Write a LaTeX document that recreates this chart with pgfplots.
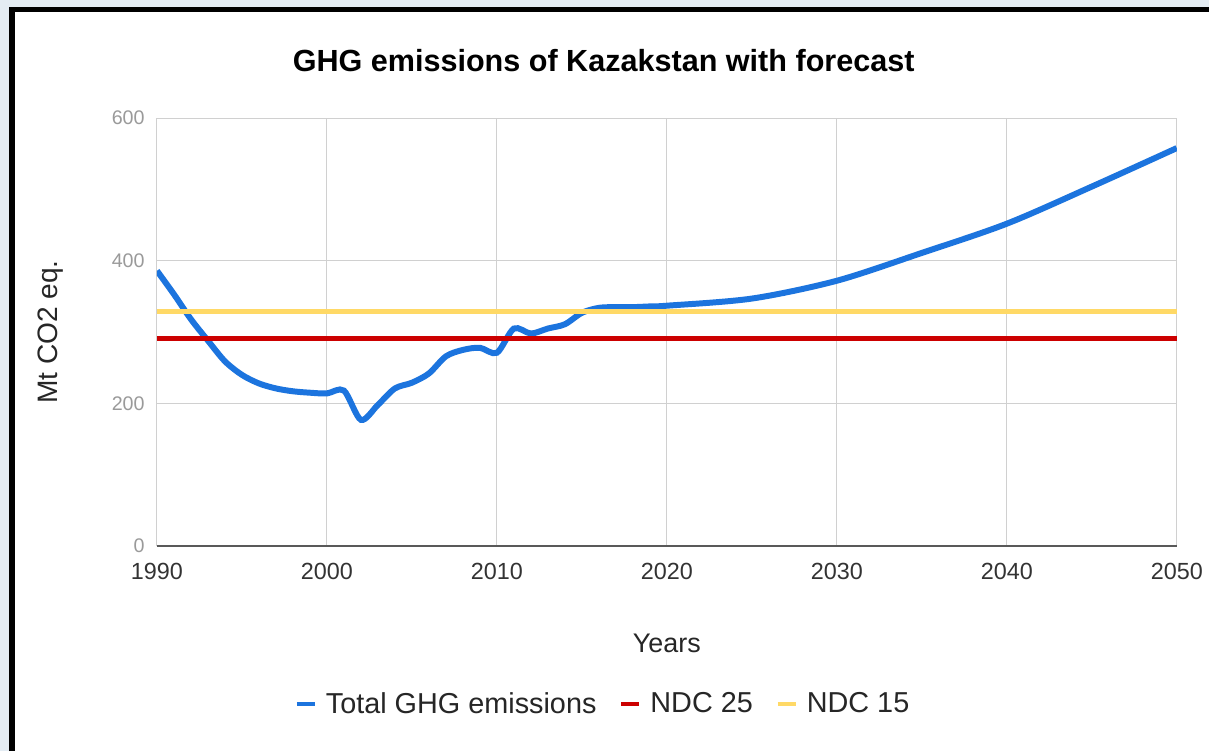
\documentclass[border=0pt]{standalone}
\usepackage{pgfplots}
\pgfplotsset{compat=1.18}
\usepackage{fontspec}
\setmainfont{Liberation Sans}
\definecolor{ghgblue}{HTML}{1C74DE}
\definecolor{ndcred}{HTML}{CC0000}
\definecolor{ndcyellow}{HTML}{FFD966}
\definecolor{gridgray}{HTML}{D0D0D0}
\definecolor{ytickgray}{HTML}{9A9A9A}
\definecolor{xtickgray}{HTML}{333333}
\definecolor{bgout}{HTML}{E4ECF3}
\begin{document}
\begin{tikzpicture}
\begin{scope}[x=0.02cm,y=0.02cm]
\useasboundingbox (0,0) rectangle (1209,751);
\fill[bgout] (0,0) rectangle (1209,751);
\fill[white] (12,0) rectangle (1209,741.5);
\draw[black, line width=0.115cm] (12.2,0) -- (12.2,741.5) -- (1209,741.5);
\end{scope}
\begin{axis}[
  at={(3.14cm,4.10cm)}, anchor=south west,
  width=20.4cm, height=8.56cm, scale only axis,
  xmin=1990, xmax=2050, ymin=0, ymax=600,
  xtick={1990,2000,2010,2020,2030,2040,2050},
  ytick={0,200,400,600},
  grid=major,
  major grid style={draw=gridgray, line width=0.6pt},
  axis line style={draw=none},
  major tick length=0pt,
  /pgf/number format/assume math mode=true,
  /pgf/number format/1000 sep={},
  xticklabel style={font=\fontsize{13.3}{16}\selectfont, text=xtickgray, anchor=north, inner sep=0pt, yshift=-0.34cm},
  yticklabel style={font=\fontsize{11.2}{13}\selectfont, text=ytickgray, anchor=east, inner sep=0pt, xshift=-0.24cm},
  title={\textbf{GHG emissions of Kazakstan with forecast}},
  title style={at={([yshift=0.94cm]axis description cs:0.438,1)}, anchor=center, font=\fontsize{17.4}{20}\selectfont, text=black},
  xlabel={Years},
  xlabel style={at={([yshift=-1.94cm]axis description cs:0.5,0)}, anchor=center, font=\fontsize{15.3}{18}\selectfont, text=black!85},
  ylabel={Mt CO2 eq.},
  ylabel style={at={([xshift=-2.12cm]axis description cs:0,0.5)}, anchor=center, font=\fontsize{16}{19}\selectfont, text=black!85},
  legend style={at={([yshift=-3.16cm]axis description cs:0.438,0)}, anchor=center, draw=none, fill=none,
    font=\fontsize{16.4}{19}\selectfont, text=black!85,
    /tikz/every odd column/.append style={column sep=0.1cm},
    /tikz/every even column/.append style={column sep=0.38cm}},
  legend columns=3,
  legend cell align=left,
  legend image code/.code={\draw[line width=2.8pt] (0cm,0cm) -- (0.36cm,0cm);},
]
\addplot[ghgblue, line width=3.4pt, smooth, tension=0.5] coordinates {
(1990,386) (1991,353) (1992,318) (1993,288) (1994,259) (1995,240)
(1996,228) (1997,221) (1998,217) (1999,215) (2000,214) (2001,218)
(2002,177) (2003,198) (2004,221) (2005,229) (2006,242) (2007,266)
(2008,275) (2009,278) (2010,271) (2011,305) (2012,298) (2013,305)
(2014,311) (2015,327) (2016,334) (2017,335) (2018,335) (2019,336)
(2020,337) (2025,347) (2030,372) (2035,411) (2040,452) (2045,504)
(2050,558)
};
\addlegendentry{Total GHG emissions}
\addplot[ndcred, line width=2.8pt] coordinates {(1990,291) (2050,291)};
\addlegendentry{NDC 25}
\addplot[ndcyellow, line width=2.8pt] coordinates {(1990,329) (2050,329)};
\addlegendentry{NDC 15}
\draw[black!65, line width=0.7pt] (axis cs:1990,0) -- (axis cs:2050,0);
\end{axis}
\end{tikzpicture}
\end{document}
